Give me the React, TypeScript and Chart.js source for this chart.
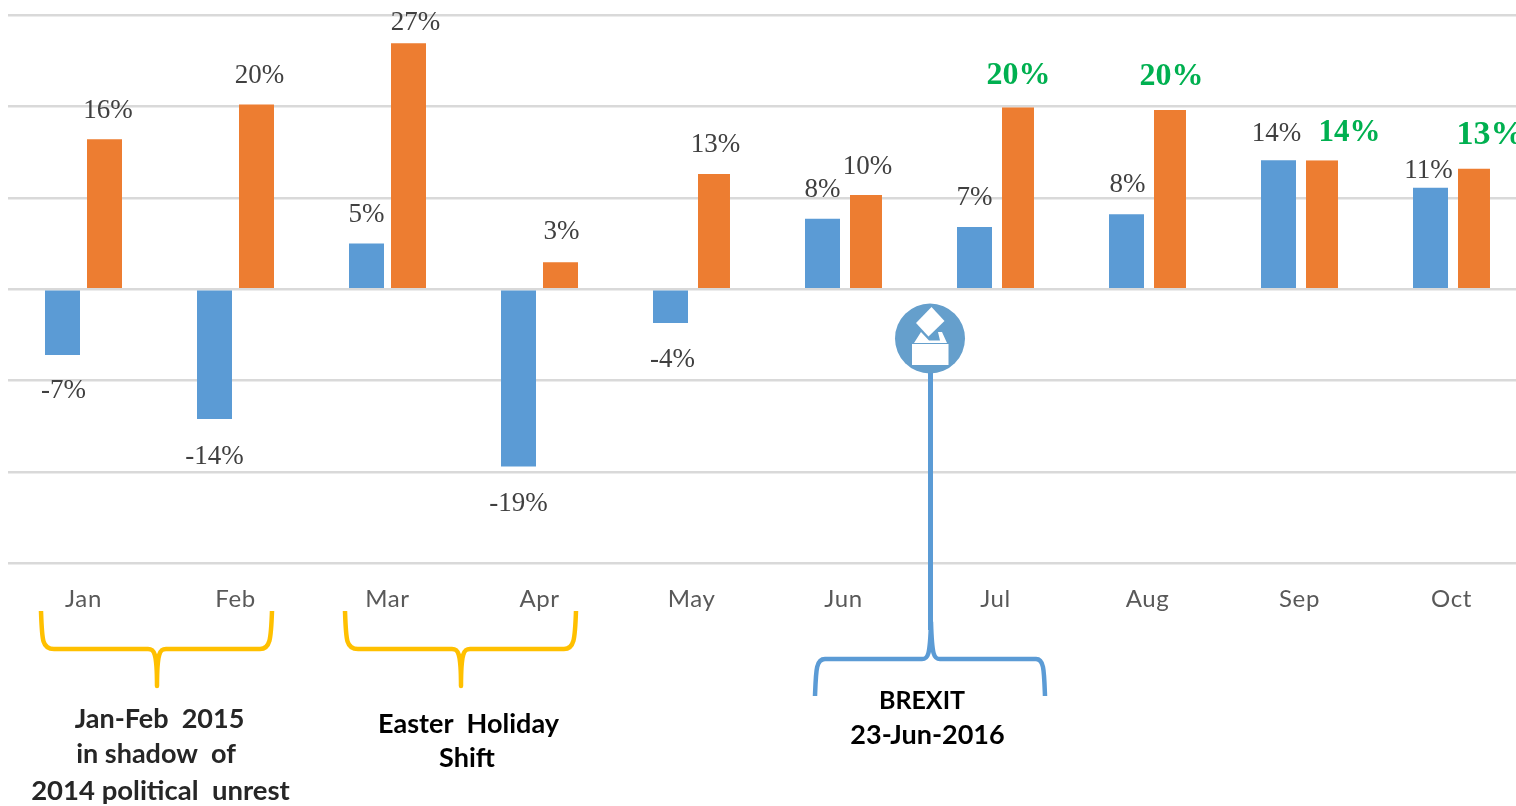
import React, { useEffect, useRef } from "react";
import { Chart, registerables } from "chart.js";

Chart.register(...registerables);

const categories = ["Jan", "Feb", "Mar", "Apr", "May", "Jun", "Jul", "Aug", "Sep", "Oct"];
const blueValues = [-7.2, -14.2, 5.0, -19.4, -3.7, 7.7, 6.8, 8.2, 14.1, 11.1];
const orangeValues = [16.4, 20.2, 26.9, 2.95, 12.6, 10.3, 19.9, 19.6, 14.1, 13.2];
const blueLabels = ["-7%", "-14%", "5%", "-19%", "-4%", "8%", "7%", "8%", "14%", "11%"];
const orangeLabels = ["16%", "20%", "27%", "3%", "13%", "10%", "20%", "20%", "14%", "13%"];

const BLUE = "#5B9BD5";
const ORANGE = "#ED7D31";
const YELLOW = "#FFC000";
const GREEN = "#00B050";
const SERIF = '"Liberation Serif", serif';
const SANS = 'Lato, "Open Sans", sans-serif';

// label placement relative to the end of each bar
const blueLabelDx = [1, 0, 0, 0, 2, 0, 0, 1, -2, -2];
const blueLabelDy = [36, 38, -29, 37, 37, -29, -29, -29, -26, -17];
const orangeLabelDx = [3.5, 3, 7, 1, 3, 3, 2, 3, 29, 18];
const orangeLabelDy = [-28, -29, -20, -30, -29, -28, -32, -33, -27, -33];
const greenFontSize = [0, 0, 0, 0, 0, 0, 32, 32, 31, 34];

const braces = [
  { color: YELLOW, d: "M41 611 C42 640 42 649 54 649 L148 649 C154 649 157 652 157 686 C157 652 160 649 166 649 L260 649 C270 649 271 640 272 611" },
  { color: YELLOW, d: "M345 611 C346 640 346 649 358 649 L452 649 C458 649 461 652 461 686 C461 652 464 649 470 649 L564 649 C574 649 575 640 576 611" },
  { color: BLUE, d: "M815 696 C816 670 816 659 825 659 L922 659 C928 659 930 656 931 622 C932 656 934 659 940 659 L1036 659 C1044 659 1044 670 1045 696" },
];

const notes = [
  { text: "Jan-Feb  2015", x: 159.5, y: 719, color: "#262626", size: 27 },
  { text: "in shadow  of", x: 156, y: 754, color: "#262626", size: 27 },
  { text: "2014 political  unrest", x: 160.5, y: 791, color: "#262626", size: 27.5 },
  { text: "Easter  Holiday", x: 468.5, y: 724, color: "#000000", size: 27 },
  { text: "Shift", x: 467, y: 758, color: "#000000", size: 27 },
  { text: "BREXIT", x: 922, y: 701, color: "#000000", size: 25 },
  { text: "23-Jun-2016", x: 927.5, y: 735, color: "#000000", size: 27 },
];

const overlay = {
  id: "overlay",
  beforeDraw(chart: any) {
    chart.ctx.letterSpacing = "0.6px";
  },
  afterDraw(chart: any) {
    const ctx = chart.ctx as CanvasRenderingContext2D;
    (ctx as any).letterSpacing = "0px";
    ctx.save();
    ctx.textAlign = "center";
    ctx.textBaseline = "middle";

    const blueBars = chart.getDatasetMeta(0).data;
    const orangeBars = chart.getDatasetMeta(1).data;
    blueBars.forEach((bar: any, i: number) => {
      ctx.font = `27px ${SERIF}`;
      ctx.fillStyle = "#404040";
      ctx.fillText(blueLabels[i], bar.x + blueLabelDx[i], bar.y + blueLabelDy[i]);
    });
    orangeBars.forEach((bar: any, i: number) => {
      const size = greenFontSize[i];
      ctx.font = size ? `bold ${size}px ${SERIF}` : `27px ${SERIF}`;
      ctx.fillStyle = size ? GREEN : "#404040";
      ctx.fillText(orangeLabels[i], bar.x + orangeLabelDx[i], bar.y + orangeLabelDy[i]);
    });

    // braces and stem
    ctx.lineCap = "butt";
    ctx.lineJoin = "round";
    ctx.lineWidth = 4.5;
    braces.forEach((b) => {
      ctx.strokeStyle = b.color;
      ctx.stroke(new Path2D(b.d));
    });
    ctx.strokeStyle = BLUE;
    ctx.lineWidth = 5;
    ctx.beginPath();
    ctx.moveTo(930.5, 368);
    ctx.lineTo(930.5, 630);
    ctx.stroke();

    // ballot icon
    ctx.fillStyle = "#659FCC";
    ctx.beginPath();
    ctx.arc(930, 338.5, 35, 0, Math.PI * 2);
    ctx.fill();
    ctx.fillStyle = "#FFFFFF";
    ctx.fill(new Path2D("M931.5 307 L944.5 321 L928.5 336.5 L916 323 Z"));
    ctx.fill(new Path2D("M912 344 L948.5 344 L948.5 365 L912 365 Z"));
    ctx.fill(new Path2D("M914 343 L921 332 L929 340.5 L940 340.5 L938 332 L942 332 L947 343 Z"));

    // notes
    notes.forEach((n) => {
      ctx.font = `bold ${n.size}px ${SANS}`;
      ctx.fillStyle = n.color;
      ctx.fillText(n.text, n.x, n.y);
    });
    ctx.restore();
  },
};

export default function App() {
  const ref = useRef<HTMLCanvasElement>(null);
  useEffect(() => {
    const chart = new Chart(ref.current!, {
      type: "bar",
      data: {
        labels: categories,
        datasets: [
          { data: blueValues, backgroundColor: BLUE, categoryPercentage: 0.5526, barPercentage: 0.8333 },
          {
            data: orangeValues,
            backgroundColor: ORANGE,
            categoryPercentage: 0.5526,
            barPercentage: 0.8333,
            borderColor: "rgba(0,0,0,0)",
            borderSkipped: false,
            borderWidth: (c: any) => (c.dataIndex >= 4 ? { left: 3, top: 0, right: 0, bottom: 0 } : 0),
          },
        ],
      },
      options: {
        animation: false,
        responsive: false,
        layout: { padding: { left: 7.5, right: 12.5, top: 15, bottom: 0 } },
        plugins: { legend: { display: false }, tooltip: { enabled: false } },
        scales: {
          x: {
            grid: { display: false },
            border: { display: false },
            ticks: {
              color: "#595959",
              font: { family: SANS, size: 24 },
              padding: 13,
              maxRotation: 0,
              autoSkip: false,
            },
            afterFit: (s: any) => {
              s.height = 806 - 563.5;
            },
          },
          y: {
            min: -30,
            max: 30,
            afterFit: (s: any) => {
              s.width = 0;
            },
            ticks: { display: false, stepSize: 10 },
            border: { display: false },
            grid: { color: "#D9D9D9", lineWidth: 2.5, drawTicks: false },
          },
        },
      },
      plugins: [overlay],
    } as any);
    return () => chart.destroy();
  }, []);
  return (
    <div style={{ position: "fixed", left: 0, top: 0, width: 1516, height: 806, overflow: "hidden", background: "#fff" }}>
      <canvas ref={ref} width={1540} height={806} style={{ display: "block", width: 1540, height: 806 }} />
    </div>
  );
}
